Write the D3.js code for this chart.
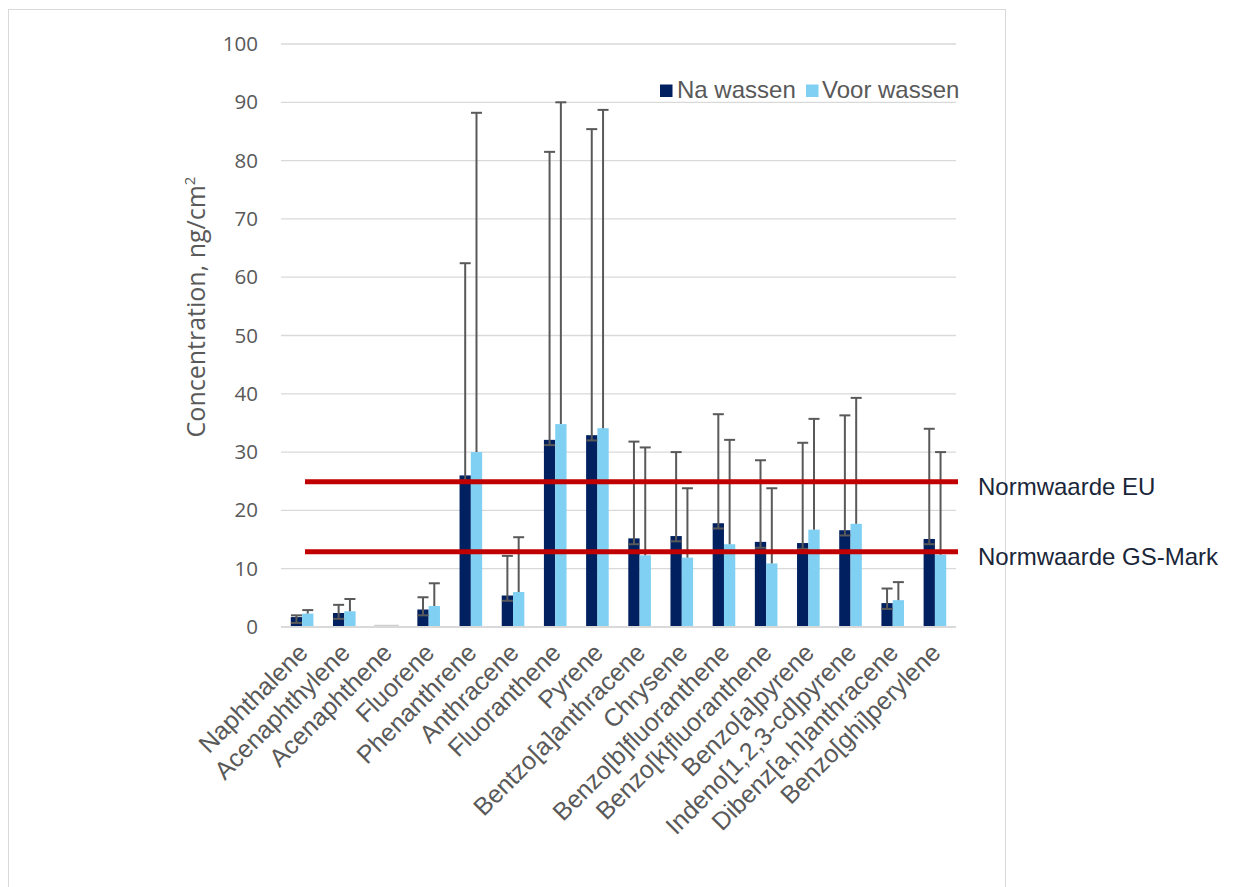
<!DOCTYPE html>
<html>
<head>
<meta charset="utf-8">
<script src="https://cdn.jsdelivr.net/npm/d3@7"></script>
<style>
  html, body { margin: 0; padding: 0; background: #fff; }
  svg { display: block; }
</style>
</head>
<body>
<svg id="chart" width="1235" height="887"></svg>
<script>
// PAH concentrations (ng/cm²) before and after washing
const categories = [
  "Naphthalene", "Acenaphthylene", "Acenaphthene", "Fluorene", "Phenanthrene",
  "Anthracene", "Fluoranthene", "Pyrene", "Bentzo[a]anthracene", "Chrysene",
  "Benzo[b]fluoranthene", "Benzo[k]fluoranthene", "Benzo[a]pyrene",
  "Indeno[1,2,3-cd]pyrene", "Dibenz[a,h]anthracene", "Benzo[ghi]perylene"
];
const seriesNames = ["Na wassen", "Voor wassen"];
const naWassen    = [1.7, 2.4, 0.1, 3.0, 26.0, 5.4, 32.1, 32.9, 15.2, 15.6, 17.8, 14.6, 14.4, 16.6, 4.1, 15.1];
const naPlus      = [0.3, 1.4, 0, 2.1, 36.4, 6.8, 49.4, 52.5, 16.6, 14.4, 18.7, 14.0, 17.2, 19.7, 2.5, 18.9];
const naMinus     = [1.0, 1.0, 0, 1.0, 0.9, 0.9, 0.9, 0.9, 1.0, 0.9, 0.9, 1.0, 1.0, 0.9, 1.0, 0.9];
const voorWassen  = [2.3, 2.7, 0.1, 3.6, 30.0, 6.0, 34.8, 34.1, 12.3, 11.9, 14.2, 10.9, 16.7, 17.7, 4.6, 12.4];
const voorPlus    = [0.6, 2.1, 0, 3.9, 58.2, 9.4, 55.2, 54.6, 18.5, 11.9, 17.9, 12.9, 19.0, 21.6, 3.1, 17.6];
const yTicks      = [0, 10, 20, 30, 40, 50, 60, 70, 80, 90, 100];
const limitNames  = ["Normwaarde EU", "Normwaarde GS-Mark"];
const limitValues = [24.9, 12.9];

const colors = { "Na wassen": "#002060", "Voor wassen": "#7fd0f3" };

const svg = d3.select("#chart");

// chart frame
svg.append("rect")
  .attr("x", 8.5).attr("y", 9.5)
  .attr("width", 997).attr("height", 900)
  .attr("fill", "#fff").attr("stroke", "#d9d9d9").attr("stroke-width", 1);

const plot = { left: 281, right: 956, top: 44, bottom: 627 };

const x = d3.scaleBand().domain(categories).range([plot.left, plot.right]).padding(0);
const barW = 11.3;
const xs = d3.scaleBand().domain(seriesNames)
  .range([x.bandwidth() / 2 - barW, x.bandwidth() / 2 + barW]).padding(0);
const y = d3.scaleLinear().domain([0, 100]).range([plot.bottom, plot.top]);

// gridlines
svg.append("g")
  .selectAll("line").data(yTicks.filter(t => t > 0)).join("line")
  .attr("x1", plot.left).attr("x2", plot.right)
  .attr("y1", d => y(d)).attr("y2", d => y(d))
  .attr("stroke", "#d9d9d9").attr("stroke-width", 1.3);

// y axis labels
const yAxis = svg.append("g")
  .attr("transform", `translate(${plot.left},0)`)
  .call(d3.axisLeft(y).tickValues(yTicks).tickSize(0).tickPadding(23));
yAxis.select(".domain").remove();
yAxis.selectAll("text")
  .attr("font-family", "'Open Sans', sans-serif")
  .attr("font-size", 20.5)
  .attr("fill", "#595959");

// y axis title
const title = svg.append("text")
  .attr("transform", "translate(205,307) rotate(-90)")
  .attr("text-anchor", "middle")
  .attr("font-family", "'Open Sans', sans-serif")
  .attr("font-size", 25)
  .attr("fill", "#595959");
title.append("tspan").text("Concentration, ng/cm");
title.append("tspan").attr("font-size", 15).attr("dy", -10).text("2");

// bars
const rows = categories.map((c, i) => ({
  cat: c,
  items: [
    { s: "Na wassen", v: naWassen[i], plus: naPlus[i], minus: naMinus[i] },
    { s: "Voor wassen", v: voorWassen[i], plus: voorPlus[i], minus: null }
  ]
}));

const groups = svg.append("g").selectAll("g").data(rows).join("g")
  .attr("transform", d => `translate(${x(d.cat)},0)`);

groups.selectAll("rect").data(d => d.items).join("rect")
  .attr("x", d => xs(d.s))
  .attr("width", xs.bandwidth())
  .attr("y", d => y(d.v))
  .attr("height", d => y(0) - y(d.v))
  .attr("fill", d => colors[d.s]);

// x axis baseline
svg.append("line")
  .attr("x1", plot.left).attr("x2", plot.right)
  .attr("y1", y(0)).attr("y2", y(0))
  .attr("stroke", "#d9d9d9").attr("stroke-width", 2);

// near-zero pair shows only as a faint mark on the baseline
groups.filter(d => d3.max(d.items, e => e.v) < 0.5)
  .append("line")
  .attr("x1", xs("Na wassen") - 1).attr("x2", xs("Voor wassen") + xs.bandwidth() + 1)
  .attr("y1", y(0) - 1.5).attr("y2", y(0) - 1.5)
  .attr("stroke", "#cfcfcf").attr("stroke-width", 1.5);

// error bars
const capW = 11;
const err = groups.selectAll("g.err").data(d => d.items.filter(e => e.plus > 0)).join("g")
  .attr("class", "err")
  .attr("transform", d => `translate(${xs(d.s) + xs.bandwidth() / 2},0)`);
err.append("line")
  .attr("x1", 0).attr("x2", 0)
  .attr("y1", d => y(d.v - (d.minus || 0)))
  .attr("y2", d => y(d.v + d.plus))
  .attr("stroke", "#595959").attr("stroke-width", 2);
err.append("line")
  .attr("x1", -capW / 2).attr("x2", capW / 2)
  .attr("y1", d => y(d.v + d.plus)).attr("y2", d => y(d.v + d.plus))
  .attr("stroke", "#595959").attr("stroke-width", 2);
err.filter(d => d.minus).append("line")
  .attr("x1", -capW / 2).attr("x2", capW / 2)
  .attr("y1", d => y(d.v - d.minus)).attr("y2", d => y(d.v - d.minus))
  .attr("stroke", "#595959").attr("stroke-width", 2);

// category labels
svg.append("g").selectAll("text").data(categories).join("text")
  .attr("transform", d => `translate(${x(d) + x.bandwidth() / 2 + 1},${plot.bottom + 21}) rotate(-45)`)
  .attr("text-anchor", "end")
  .attr("dy", "0.35em")
  .attr("font-family", "'Liberation Sans', Arial, sans-serif")
  .attr("font-size", 25)
  .attr("fill", "#595959")
  .text(d => d);

// legend
const legend = svg.append("g");
const legendX = [660, 806];
const legendTextX = [677, 822];
seriesNames.forEach((s, i) => {
  legend.append("rect")
    .attr("x", legendX[i]).attr("y", 84.5)
    .attr("width", 12.5).attr("height", 12.5)
    .attr("fill", colors[s]);
  legend.append("text")
    .attr("x", legendTextX[i]).attr("y", 98)
    .attr("font-family", "'Liberation Sans', Arial, sans-serif")
    .attr("font-size", 24)
    .attr("fill", "#595959")
    .text(s);
});

// limit values
limitValues.forEach((v, i) => {
  svg.append("line")
    .attr("x1", 305).attr("x2", 958)
    .attr("y1", y(v)).attr("y2", y(v))
    .attr("stroke", "#c00000").attr("stroke-width", 5);
  svg.append("text")
    .attr("x", 978).attr("y", y(v) + 13)
    .attr("font-family", "'Liberation Sans', Arial, sans-serif")
    .attr("font-size", 24)
    .attr("fill", "#1a2639")
    .text(limitNames[i]);
});
</script>
</body>
</html>
